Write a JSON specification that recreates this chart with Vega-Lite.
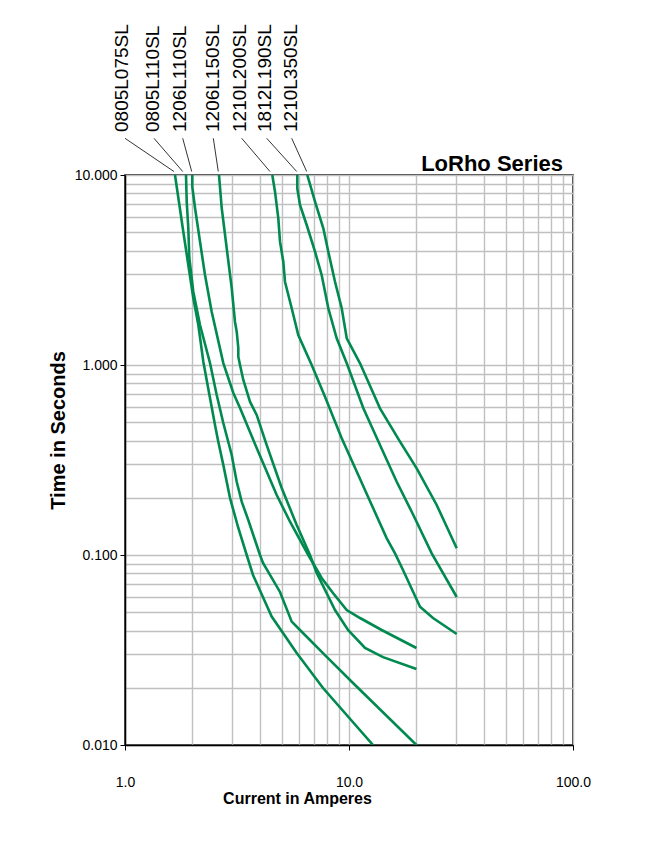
{
  "$schema": "https://vega.github.io/schema/vega-lite/v6.json",
  "width": 448,
  "height": 570,
  "autosize": {"type": "none"},
  "padding": {"left": 125, "top": 175, "right": 73, "bottom": 104},
  "background": "white",
  "config": {
    "view": {"stroke": "black", "strokeWidth": 1.5},
    "axis": {"domainColor": "black", "domainWidth": 1.5, "labelFont": "Liberation Sans", "labelFontSize": 14, "labelColor": "black", "titleFont": "Liberation Sans", "titleFontWeight": "bold", "titleColor": "black", "gridColor": "#c0c0c0", "gridWidth": 1.4, "tickColor": "black", "tickSize": 5, "labelOverlap": false, "labelFlush": false}
  },
  "datasets": {
    "curves": [
      {"s": "0805L075SL", "a": 1.672, "t": 10}, {"s": "0805L075SL", "a": 1.821, "t": 5.03}, {"s": "0805L075SL", "a": 1.917, "t": 3.36}, {"s": "0805L075SL", "a": 2.018, "t": 2.253}, {"s": "0805L075SL", "a": 2.125, "t": 1.624}, {"s": "0805L075SL", "a": 2.237, "t": 1.041}, {"s": "0805L075SL", "a": 2.396, "t": 0.67}, {"s": "0805L075SL", "a": 2.522, "t": 0.483}, {"s": "0805L075SL", "a": 2.609, "t": 0.395}, {"s": "0805L075SL", "a": 2.747, "t": 0.298}, {"s": "0805L075SL", "a": 2.943, "t": 0.1995}, {"s": "0805L075SL", "a": 3.205, "t": 0.1387}, {"s": "0805L075SL", "a": 3.494, "t": 0.1}, {"s": "0805L075SL", "a": 3.728, "t": 0.0785}, {"s": "0805L075SL", "a": 4.517, "t": 0.0474}, {"s": "0805L075SL", "a": 5.842, "t": 0.0305}, {"s": "0805L075SL", "a": 7.656, "t": 0.01995}, {"s": "0805L075SL", "a": 12.8, "t": 0.01},
      {"s": "0805L110SL", "a": 1.872, "t": 10}, {"s": "0805L110SL", "a": 1.886, "t": 7.236}, {"s": "0805L110SL", "a": 1.917, "t": 5.26}, {"s": "0805L110SL", "a": 1.937, "t": 3.657}, {"s": "0805L110SL", "a": 2.018, "t": 2.431}, {"s": "0805L110SL", "a": 2.162, "t": 1.624}, {"s": "0805L110SL", "a": 2.396, "t": 1.024}, {"s": "0805L110SL", "a": 2.567, "t": 0.695}, {"s": "0805L110SL", "a": 2.747, "t": 0.495}, {"s": "0805L110SL", "a": 2.995, "t": 0.336}, {"s": "0805L110SL", "a": 3.153, "t": 0.243}, {"s": "0805L110SL", "a": 3.319, "t": 0.1908}, {"s": "0805L110SL", "a": 3.551, "t": 0.1528}, {"s": "0805L110SL", "a": 4.006, "t": 0.1}, {"s": "0805L110SL", "a": 4.131, "t": 0.0908}, {"s": "0805L110SL", "a": 4.92, "t": 0.0639}, {"s": "0805L110SL", "a": 5.549, "t": 0.0446}, {"s": "0805L110SL", "a": 6.042, "t": 0.0403}, {"s": "0805L110SL", "a": 7.952, "t": 0.0291}, {"s": "0805L110SL", "a": 10.42, "t": 0.0212}, {"s": "0805L110SL", "a": 20, "t": 0.01},
      {"s": "1206L110SL", "a": 1.997, "t": 10}, {"s": "1206L110SL", "a": 1.997, "t": 8.68}, {"s": "1206L110SL", "a": 2.054, "t": 6.705}, {"s": "1206L110SL", "a": 2.162, "t": 4.457}, {"s": "1206L110SL", "a": 2.276, "t": 2.976}, {"s": "1206L110SL", "a": 2.438, "t": 1.908}, {"s": "1206L110SL", "a": 2.747, "t": 1.024}, {"s": "1206L110SL", "a": 3.045, "t": 0.712}, {"s": "1206L110SL", "a": 3.262, "t": 0.594}, {"s": "1206L110SL", "a": 3.871, "t": 0.366}, {"s": "1206L110SL", "a": 4.756, "t": 0.207}, {"s": "1206L110SL", "a": 5.453, "t": 0.1497}, {"s": "1206L110SL", "a": 6.58, "t": 0.1}, {"s": "1206L110SL", "a": 7.55, "t": 0.0757}, {"s": "1206L110SL", "a": 8.48, "t": 0.0631}, {"s": "1206L110SL", "a": 9.77, "t": 0.0513}, {"s": "1206L110SL", "a": 11.2, "t": 0.0466}, {"s": "1206L110SL", "a": 13.99, "t": 0.0403}, {"s": "1206L110SL", "a": 20, "t": 0.0324},
      {"s": "1206L150SL", "a": 2.628, "t": 10}, {"s": "1206L150SL", "a": 2.702, "t": 6.705}, {"s": "1206L150SL", "a": 2.844, "t": 4.128}, {"s": "1206L150SL", "a": 2.995, "t": 2.543}, {"s": "1206L150SL", "a": 3.097, "t": 1.69}, {"s": "1206L150SL", "a": 3.153, "t": 1.497}, {"s": "1206L150SL", "a": 3.205, "t": 1.229}, {"s": "1206L150SL", "a": 3.205, "t": 1.106}, {"s": "1206L150SL", "a": 3.262, "t": 1.0}, {"s": "1206L150SL", "a": 3.374, "t": 0.834}, {"s": "1206L150SL", "a": 3.614, "t": 0.641}, {"s": "1206L150SL", "a": 3.871, "t": 0.546}, {"s": "1206L150SL", "a": 4.292, "t": 0.379}, {"s": "1206L150SL", "a": 5.006, "t": 0.2253}, {"s": "1206L150SL", "a": 5.842, "t": 0.1438}, {"s": "1206L150SL", "a": 6.698, "t": 0.1}, {"s": "1206L150SL", "a": 7.174, "t": 0.0804}, {"s": "1206L150SL", "a": 8.66, "t": 0.0513}, {"s": "1206L150SL", "a": 9.9, "t": 0.0403}, {"s": "1206L150SL", "a": 11.79, "t": 0.0324}, {"s": "1206L150SL", "a": 14.19, "t": 0.029}, {"s": "1206L150SL", "a": 20, "t": 0.0251},
      {"s": "1210L200SL", "a": 4.546, "t": 10}, {"s": "1210L200SL", "a": 4.674, "t": 8.169}, {"s": "1210L200SL", "a": 4.835, "t": 5.917}, {"s": "1210L200SL", "a": 4.92, "t": 4.457}, {"s": "1210L200SL", "a": 5.089, "t": 3.497}, {"s": "1210L200SL", "a": 5.179, "t": 2.744}, {"s": "1210L200SL", "a": 5.549, "t": 1.988}, {"s": "1210L200SL", "a": 5.937, "t": 1.439}, {"s": "1210L200SL", "a": 6.815, "t": 1.0}, {"s": "1210L200SL", "a": 7.814, "t": 0.681}, {"s": "1210L200SL", "a": 9.278, "t": 0.4114}, {"s": "1210L200SL", "a": 11.0, "t": 0.2637}, {"s": "1210L200SL", "a": 12.63, "t": 0.1833}, {"s": "1210L200SL", "a": 14.74, "t": 0.1224}, {"s": "1210L200SL", "a": 16.05, "t": 0.102}, {"s": "1210L200SL", "a": 17.42, "t": 0.0834}, {"s": "1210L200SL", "a": 20.75, "t": 0.0534}, {"s": "1210L200SL", "a": 23.71, "t": 0.0466}, {"s": "1210L200SL", "a": 30.26, "t": 0.0384},
      {"s": "1812L190SL", "a": 5.877, "t": 10}, {"s": "1812L190SL", "a": 5.877, "t": 8.511}, {"s": "1812L190SL", "a": 6.042, "t": 6.951}, {"s": "1812L190SL", "a": 6.474, "t": 5.456}, {"s": "1812L190SL", "a": 7.052, "t": 3.948}, {"s": "1812L190SL", "a": 7.55, "t": 2.976}, {"s": "1812L190SL", "a": 8.085, "t": 1.988}, {"s": "1812L190SL", "a": 8.811, "t": 1.382}, {"s": "1812L190SL", "a": 9.77, "t": 1.021}, {"s": "1812L190SL", "a": 11.59, "t": 0.5917}, {"s": "1812L190SL", "a": 13.75, "t": 0.379}, {"s": "1812L190SL", "a": 16.33, "t": 0.243}, {"s": "1812L190SL", "a": 19.37, "t": 0.1624}, {"s": "1812L190SL", "a": 23.4, "t": 0.102}, {"s": "1812L190SL", "a": 30.26, "t": 0.0601},
      {"s": "1210L350SL", "a": 6.513, "t": 10}, {"s": "1210L350SL", "a": 7.052, "t": 7.236}, {"s": "1210L350SL", "a": 7.68, "t": 5.243}, {"s": "1210L350SL", "a": 8.085, "t": 3.948}, {"s": "1210L350SL", "a": 8.66, "t": 2.744}, {"s": "1210L350SL", "a": 9.278, "t": 1.988}, {"s": "1210L350SL", "a": 9.77, "t": 1.382}, {"s": "1210L350SL", "a": 11.2, "t": 1.021}, {"s": "1210L350SL", "a": 13.75, "t": 0.5917}, {"s": "1210L350SL", "a": 16.89, "t": 0.395}, {"s": "1210L350SL", "a": 20.05, "t": 0.286}, {"s": "1210L350SL", "a": 24.63, "t": 0.1833}, {"s": "1210L350SL", "a": 30.26, "t": 0.1085}
    ],
    "leaders": [
      {"s": "0805L075SL", "a1": 1.0, "t1": 15.6, "a2": 1.654, "t2": 10.43},
      {"s": "0805L110SL", "a1": 1.347, "t1": 15.6, "a2": 1.81, "t2": 10.43},
      {"s": "1206L110SL", "a1": 1.81, "t1": 15.6, "a2": 1.985, "t2": 10.43},
      {"s": "1206L150SL", "a1": 2.479, "t1": 15.6, "a2": 2.609, "t2": 10.43},
      {"s": "1210L200SL", "a1": 3.319, "t1": 15.6, "a2": 4.439, "t2": 10.43},
      {"s": "1812L190SL", "a1": 4.292, "t1": 15.6, "a2": 5.842, "t2": 10.43},
      {"s": "1210L350SL", "a1": 5.549, "t1": 15.6, "a2": 6.474, "t2": 10.43}
    ],
    "labels": [
      {"s": "0805L075SL", "a": 0.9696, "t": 16.84},
      {"s": "0805L110SL", "a": 1.327, "t": 16.84},
      {"s": "1206L110SL", "a": 1.769, "t": 16.84},
      {"s": "1206L150SL", "a": 2.459, "t": 16.84},
      {"s": "1210L200SL", "a": 3.278, "t": 16.84},
      {"s": "1812L190SL", "a": 4.196, "t": 16.84},
      {"s": "1210L350SL", "a": 5.481, "t": 16.84}
    ],
    "series": [
      {"name": "LoRho Series", "a": 90.2, "t": 10.45}
    ]
  },
  "layer": [
    {
      "data": {"name": "curves"},
      "mark": {"type": "line", "color": "#008a50", "strokeWidth": 2.6, "clip": true},
      "encoding": {
        "x": {"field": "a", "type": "quantitative", "title": "Current in Amperes",
          "scale": {"type": "log", "domain": [1, 100]},
          "axis": {"values": [1, 2, 3, 4, 5, 6, 7, 8, 9, 10, 20, 30, 40, 50, 60, 70, 80, 90, 100],
            "labelExpr": "(datum.value == 1 || datum.value == 10 || datum.value == 100) ? format(datum.value, '.1f') : ''",
            "tickOpacity": {"condition": {"test": "datum.value == 1 || datum.value == 10 || datum.value == 100", "value": 1}, "value": 0},
            "labelPadding": 25, "titleFontSize": 16, "titlePadding": 1, "titleX": 172}},
        "y": {"field": "t", "type": "quantitative", "title": "Time in Seconds",
          "scale": {"type": "log", "domain": [0.01, 10]},
          "axis": {"values": [0.01, 0.02, 0.03, 0.04, 0.05, 0.06, 0.07, 0.08, 0.09, 0.1, 0.2, 0.3, 0.4, 0.5, 0.6, 0.7, 0.8, 0.9, 1, 2, 3, 4, 5, 6, 7, 8, 9, 10],
            "labelExpr": "(datum.value == 0.01 || datum.value == 0.1 || datum.value == 1 || datum.value == 10) ? format(datum.value, '.3f') : ''",
            "tickOpacity": {"condition": {"test": "datum.value == 0.01 || datum.value == 0.1 || datum.value == 1 || datum.value == 10", "value": 1}, "value": 0},
            "labelPadding": 3, "titleFontSize": 20, "titlePadding": 6, "titleY": 255}},
        "detail": {"field": "s"},
        "order": {"value": null}
      }
    },
    {
      "data": {"name": "leaders"},
      "mark": {"type": "rule", "color": "black", "strokeWidth": 0.8},
      "encoding": {
        "x": {"field": "a1", "type": "quantitative", "title": "Current in Amperes"},
        "x2": {"field": "a2"},
        "y": {"field": "t1", "type": "quantitative", "title": "Time in Seconds"},
        "y2": {"field": "t2"}
      }
    },
    {
      "data": {"name": "labels"},
      "mark": {"type": "text", "angle": 270, "align": "left", "baseline": "middle", "font": "Liberation Sans", "fontSize": 19, "color": "black"},
      "encoding": {
        "x": {"field": "a", "type": "quantitative", "title": "Current in Amperes"},
        "y": {"field": "t", "type": "quantitative", "title": "Time in Seconds"},
        "text": {"field": "s"}
      }
    },
    {
      "data": {"name": "series"},
      "mark": {"type": "text", "align": "right", "baseline": "alphabetic", "font": "Liberation Sans", "fontWeight": "bold", "fontSize": 22, "color": "black"},
      "encoding": {
        "x": {"field": "a", "type": "quantitative", "title": "Current in Amperes"},
        "y": {"field": "t", "type": "quantitative", "title": "Time in Seconds"},
        "text": {"field": "name"}
      }
    }
  ]
}
